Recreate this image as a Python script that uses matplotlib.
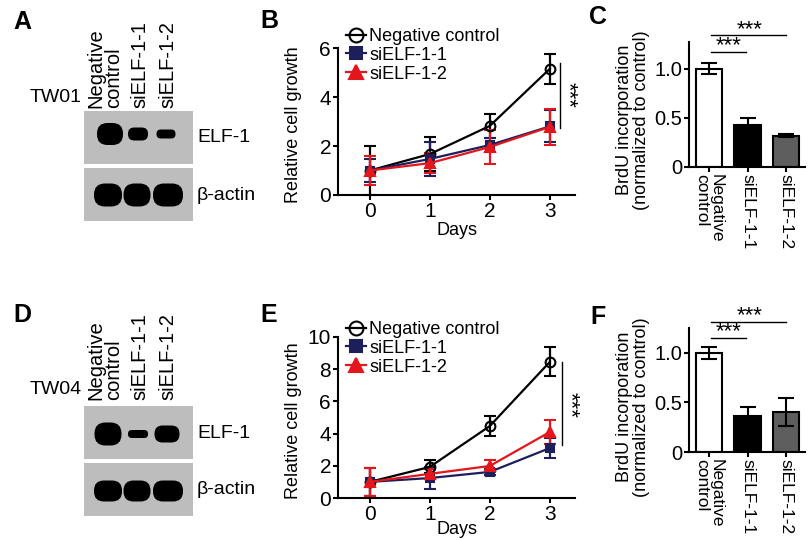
import numpy as np
import matplotlib.pyplot as plt
from matplotlib.lines import Line2D
from matplotlib.patches import FancyBboxPatch

plt.rcParams['font.family'] = ['Liberation Sans', 'DejaVu Sans']

W, H = 810, 540

# growth curves (relative cell growth, mean +/- error)
days = [0, 1, 2, 3]
tw01_nc = [1.0, 1.67, 2.82, 5.15]
tw01_nc_err = [1.0, 0.7, 0.5, 0.6]
tw01_si1 = [1.0, 1.47, 2.04, 2.8]
tw01_si1_err = [0.45, 0.7, 0.3, 0.65]
tw01_si2 = [1.0, 1.3, 1.96, 2.78]
tw01_si2_err = [0.6, 0.4, 0.7, 0.75]

tw04_nc = [1.0, 1.93, 4.47, 8.45]
tw04_nc_err = [0.85, 0.4, 0.65, 0.9]
tw04_si1 = [1.0, 1.24, 1.62, 3.1]
tw04_si1_err = [0.85, 0.7, 0.2, 0.6]
tw04_si2 = [1.0, 1.5, 1.99, 4.1]
tw04_si2_err = [0.85, 0.3, 0.35, 0.75]

# BrdU incorporation
groups = ['Negative\ncontrol', 'siELF-1-1', 'siELF-1-2']
tw01_brdu = [1.0, 0.43, 0.32]
tw01_brdu_err = [0.06, 0.07, 0.02]
tw04_brdu = [1.0, 0.36, 0.40]
tw04_brdu_err = [0.06, 0.09, 0.14]

# western blot bands (box is 109 x 53 units: centre x, width, height)
tw01_elf_x = [26, 54, 82]
tw01_elf_w = [26, 20, 19]
tw01_elf_h = [22, 13, 9]
tw01_act_x = [24, 53, 84]
tw01_act_w = [28, 27, 30]
tw01_act_h = [23, 23, 23]
tw04_elf_x = [24, 54, 83]
tw04_elf_w = [27, 20, 25]
tw04_elf_h = [23, 8, 17]
tw04_act_x = [24, 53, 84]
tw04_act_w = [28, 27, 30]
tw04_act_h = [21, 21, 21]

fig = plt.figure(figsize=(8.1, 5.4), dpi=100)


def px_axes(l, t, r, b):
    return fig.add_axes([l / W, 1 - b / H, (r - l) / W, (b - t) / H])


def ftext(x, y, s, **kw):
    fig.text(x / W, 1 - y / H, s, **kw)


def style(ax):
    for s in ['top', 'right']:
        ax.spines[s].set_visible(False)
    for s in ['left', 'bottom']:
        ax.spines[s].set_linewidth(1.5)
    ax.tick_params(width=1.5, length=3.5, labelsize=15, pad=1.5)


def band(ax, x, y, w, h):
    r = h / 2 * 0.95
    ax.add_patch(FancyBboxPatch((x - w / 2 + r, y - h / 2 + r), w - 2 * r, h - 2 * r,
                                boxstyle='round,pad=%g' % r, color='black', lw=0))


def blot(top, cell, bands, band_y, lab_y):
    names = ['ELF-1', 'β-actin']
    for i in range(2):
        t = top + i * 57
        ax = px_axes(84, t, 193, t + 53)
        ax.set_facecolor('#bdbdbd')
        ax.set_xlim(0, 109)
        ax.set_ylim(0, 53)
        ax.set_xticks([])
        ax.set_yticks([])
        for s in ax.spines.values():
            s.set_visible(False)
        xs, ws, hs = bands[i]
        for x, w, h in zip(xs, ws, hs):
            band(ax, x, band_y[i], w, h)
        ftext(197, t + 27, names[i], fontsize=14, va='center', ha='left')
    ftext(82, lab_y - 11, cell, fontsize=14, ha='right', va='center')
    for x, s in zip([105, 140, 168], groups):
        ftext(x, lab_y, s, fontsize=14.5, rotation=90, ha='center', va='bottom',
              ma='left', linespacing=0.9)


def growth(ax, nc, nc_e, s1, s1_e, s2, s2_e, ymax, step, sig, leg_top, days_y):
    series = [(nc, nc_e, 'black', 'o', 'none', 7),
              (s1, s1_e, '#1c1f5a', 's', '#1c1f5a', 6),
              (s2, s2_e, '#e3161d', '^', '#e3161d', 7)]
    handles = []
    for y, e, c, m, fc, ms in series:
        ax.errorbar(days, y, yerr=e, color=c, lw=1.6, elinewidth=1.6, capsize=4,
                    capthick=1.6, marker=m, ms=ms, mfc=fc, mec=c, mew=1.5, clip_on=False)
        handles.append(Line2D([], [], color=c, lw=1.6, marker=m, ms=ms + 3, mfc=fc,
                              mec=c, mew=1.5))
    ax.set_xlim(-0.53, 3.42)
    ax.set_ylim(0, ymax)
    ax.set_xticks(days)
    ax.set_yticks(np.arange(0, ymax + 0.1, step))
    style(ax)
    ax.set_ylabel('Relative cell growth', fontsize=13)
    ax.yaxis.set_label_coords(-0.15, 0.48)
    ax.set_xlabel('Days', fontsize=13, va='center')
    ax.xaxis.set_label_coords(0.5, days_y)
    x, y0, y1, ys = sig
    ax.plot([x, x], [y0, y1], color='k', lw=1, clip_on=False)
    ax.text(x + 0.14, ys, '***', rotation=270, ha='center', va='center', fontsize=16)
    fig.legend(handles, ['Negative control', 'siELF-1-1', 'siELF-1-2'],
               loc='upper left', bbox_to_anchor=(346 / W, 1 - leg_top / H),
               frameon=False, fontsize=13, handlelength=1.1, handletextpad=0.2,
               labelspacing=0.1, borderpad=0, borderaxespad=0)


def brdu(ax, vals, errs, ymax, sig):
    x = np.arange(3)
    ax.bar(x, vals, width=0.68, color=['white', 'black', '#5e5e5e'],
           edgecolor='black', lw=1.5)
    ax.errorbar(x, vals, yerr=errs, fmt='none', ecolor='black', elinewidth=1.5,
                capsize=6, capthick=1.5)
    ax.set_xlim(-0.52, 2.49)
    ax.set_ylim(0, ymax)
    ax.set_yticks([0, 0.5, 1.0])
    ax.set_yticklabels(['0', '0.5', '1.0'])
    ax.set_xticks(x)
    ax.set_xticklabels(groups, rotation=270, ma='left', linespacing=0.9)
    style(ax)
    ax.tick_params(axis='y', labelsize=14.5)
    ax.tick_params(axis='x', labelsize=12.5)
    for x0, x1, y, ys, xs in sig:
        ax.plot([x0, x1], [y, y], color='k', lw=1, clip_on=False)
        ax.text(xs, ys, '***', ha='center', va='center', fontsize=16, clip_on=False)


# row 1: TW01
blot(111, 'TW01', [(tw01_elf_x, tw01_elf_w, tw01_elf_h), (tw01_act_x, tw01_act_w, tw01_act_h)],
     [30, 26], 108)
axB = px_axes(338, 48, 575, 195)
growth(axB, tw01_nc, tw01_nc_err, tw01_si1, tw01_si1_err, tw01_si2, tw01_si2_err,
       6, 2, (3.17, 5.39, 2.73, 4.08), 28, -0.24)
axC = px_axes(689, 42, 805, 167)
brdu(axC, tw01_brdu, tw01_brdu_err, 1.27,
     [(0.05, 2.0, 1.34, 1.40, 1.06), (0.05, 0.96, 1.17, 1.23, 0.5)])
ftext(633, 120, 'BrdU incorporation\n(normalized to control)', fontsize=13,
      rotation=90, ha='center', va='center', linespacing=1.05)

# row 2: TW04
blot(406, 'TW04', [(tw04_elf_x, tw04_elf_w, tw04_elf_h), (tw04_act_x, tw04_act_w, tw04_act_h)],
     [25, 25], 400)
axE = px_axes(338, 337, 575, 498)
growth(axE, tw04_nc, tw04_nc_err, tw04_si1, tw04_si1_err, tw04_si2, tw04_si2_err,
       10, 2, (3.2, 8.45, 3.3, 5.8), 321, -0.195)
axF = px_axes(689, 328, 805, 452)
brdu(axF, tw04_brdu, tw04_brdu_err, 1.25,
     [(0.05, 2.0, 1.31, 1.37, 1.06), (0.05, 0.96, 1.15, 1.21, 0.5)])
ftext(633, 407, 'BrdU incorporation\n(normalized to control)', fontsize=13,
      rotation=90, ha='center', va='center', linespacing=1.05)

# panel letters
for s, x, y in [('A', 13, 22), ('B', 260, 21), ('C', 589, 17),
                ('D', 13, 315), ('E', 260, 315), ('F', 590, 317)]:
    ftext(x, y, s, fontsize=18, fontweight='bold', ha='left', va='center')

fig.savefig('out.png', dpi=100)
